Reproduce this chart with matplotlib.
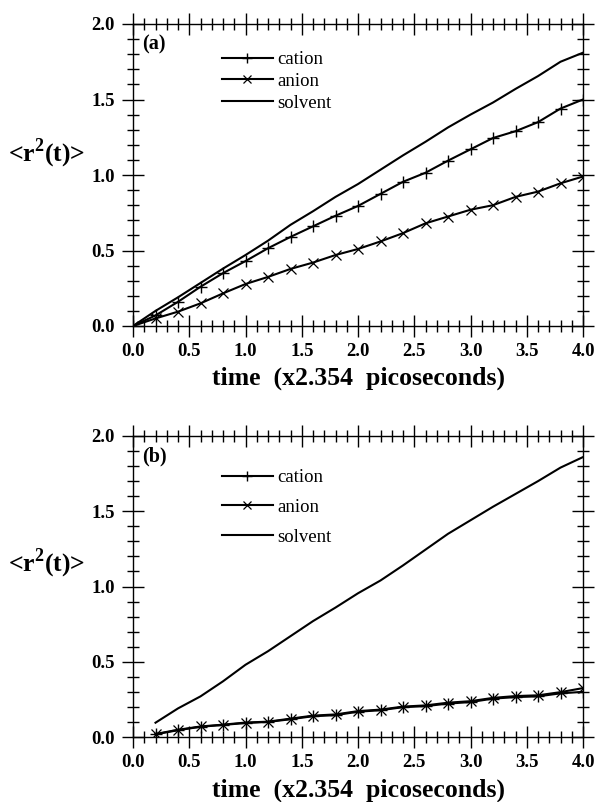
import matplotlib
matplotlib.use("Agg")
import matplotlib.pyplot as plt
from matplotlib.ticker import MultipleLocator, FormatStrFormatter

# ---------------- data ----------------
t_a = [0.0, 0.2, 0.4, 0.6, 0.8, 1.0, 1.2, 1.4, 1.6, 1.8, 2.0,
       2.2, 2.4, 2.6, 2.8, 3.0, 3.2, 3.4, 3.6, 3.8, 4.0]
cation_a = [0.0, 0.07, 0.16, 0.26, 0.35, 0.43, 0.515, 0.59, 0.66, 0.73, 0.795,
            0.875, 0.955, 1.015, 1.095, 1.17, 1.245, 1.29, 1.35, 1.44, 1.50]
anion_a = [0.0, 0.05, 0.095, 0.15, 0.216, 0.278, 0.325, 0.378, 0.42, 0.47, 0.51,
           0.56, 0.615, 0.68, 0.725, 0.77, 0.80, 0.855, 0.89, 0.945, 0.99]
solvent_a = [0.0, 0.10, 0.19, 0.285, 0.38, 0.47, 0.565, 0.67, 0.76, 0.855, 0.94,
             1.035, 1.13, 1.22, 1.315, 1.40, 1.48, 1.57, 1.655, 1.75, 1.81]

t_b = [0.2, 0.4, 0.6, 0.8, 1.0, 1.2, 1.4, 1.6, 1.8, 2.0,
       2.2, 2.4, 2.6, 2.8, 3.0, 3.2, 3.4, 3.6, 3.8, 4.0]
cation_b = [0.018, 0.045, 0.068, 0.08, 0.093, 0.10, 0.118, 0.138, 0.145, 0.168,
            0.178, 0.198, 0.205, 0.222, 0.232, 0.255, 0.265, 0.27, 0.29, 0.30]
anion_b = [0.02, 0.048, 0.07, 0.082, 0.096, 0.102, 0.122, 0.142, 0.15, 0.172,
           0.182, 0.202, 0.21, 0.228, 0.238, 0.26, 0.272, 0.277, 0.298, 0.325]
solvent_b = [0.095, 0.19, 0.27, 0.37, 0.48, 0.57, 0.67, 0.77, 0.86, 0.955,
             1.04, 1.14, 1.245, 1.35, 1.44, 1.53, 1.615, 1.70, 1.79, 1.86]

series_labels = ["cation", "anion", "solvent"]
panel_labels = ["(a)", "(b)"]
xlabel_text = "time  (x2.354  picoseconds)"
ylabel_text = r"<r$^{\mathbf{2}}$(t)>"

# ---------------- style ----------------
plt.rcParams['font.family'] = ['Liberation Serif', 'DejaVu Serif']
plt.rcParams['mathtext.fontset'] = 'custom'
plt.rcParams['mathtext.rm'] = 'Liberation Serif:bold'
plt.rcParams['mathtext.bf'] = 'Liberation Serif:bold'

W, H = 597, 802
fig = plt.figure(figsize=(W / 100, H / 100), dpi=100)

def fx(px):
    return px / W

def fy(py):
    return 1 - py / H

panels = [
    dict(top=24, bottom=326, t=t_a, c=cation_a, a=anion_a, s=solvent_a,
         leg_y=61, leg_sp=0.25, lab=panel_labels[0], xl_y=378, yl_y=153),
    dict(top=436, bottom=737, t=t_b, c=cation_b, a=anion_b, s=solvent_b,
         leg_y=479, leg_sp=0.68, lab=panel_labels[1], xl_y=790, yl_y=563),
]

left_px, right_px = 133, 583
leg_fs = 13.5

for p in panels:
    ax = fig.add_axes([fx(left_px), fy(p['bottom']),
                       fx(right_px - left_px), (p['bottom'] - p['top']) / H])
    ax.plot(p['t'], p['c'], color='black', lw=1.5, marker='+', ms=9, mew=1.0,
            label=series_labels[0])
    ax.plot(p['t'], p['a'], color='black', lw=1.5, marker='x', ms=7.5, mew=0.9,
            label=series_labels[1])
    ax.plot(p['t'], p['s'], color='black', lw=1.5, label=series_labels[2])

    ax.set_xlim(0, 4.0)
    ax.set_ylim(0, 2.0)
    ax.xaxis.set_major_locator(MultipleLocator(0.5))
    ax.xaxis.set_minor_locator(MultipleLocator(0.1))
    ax.yaxis.set_major_locator(MultipleLocator(0.5))
    ax.yaxis.set_minor_locator(MultipleLocator(0.1))
    ax.xaxis.set_major_formatter(FormatStrFormatter('%.1f'))
    ax.yaxis.set_major_formatter(FormatStrFormatter('%.1f'))
    ax.tick_params(which='both', direction='inout', top=True, right=True,
                   width=1.0, color='black')
    ax.tick_params(which='major', length=16, labelsize=13.5)
    ax.tick_params(axis='y', which='major', pad=5)
    ax.tick_params(axis='x', which='major', pad=4)
    ax.tick_params(which='minor', length=8)
    for lbl in ax.get_xticklabels() + ax.get_yticklabels():
        lbl.set_fontweight('bold')
    for sp in ax.spines.values():
        sp.set_linewidth(1.0)

    ax.text(0.02, 0.965, p['lab'], transform=ax.transAxes, fontsize=14.5,
            fontweight='bold', ha='left', va='top')

    leg = ax.legend(loc='upper left', bbox_to_anchor=(fx(222), fy(p['leg_y'] - 10)),
                    bbox_transform=fig.transFigure,
                    frameon=False, fontsize=leg_fs, handlelength=2.7,
                    handletextpad=0.25, labelspacing=p['leg_sp'],
                    borderpad=0, borderaxespad=0, markerscale=0.8)

    fig.text(fx(358), fy(p['xl_y']), xlabel_text, fontsize=18.5,
             fontweight='bold', ha='center', va='center')
    fig.text(fx(47), fy(p['yl_y']), ylabel_text, fontsize=18.5,
             fontweight='bold', ha='center', va='center')

fig.savefig('out.png', dpi=100)
